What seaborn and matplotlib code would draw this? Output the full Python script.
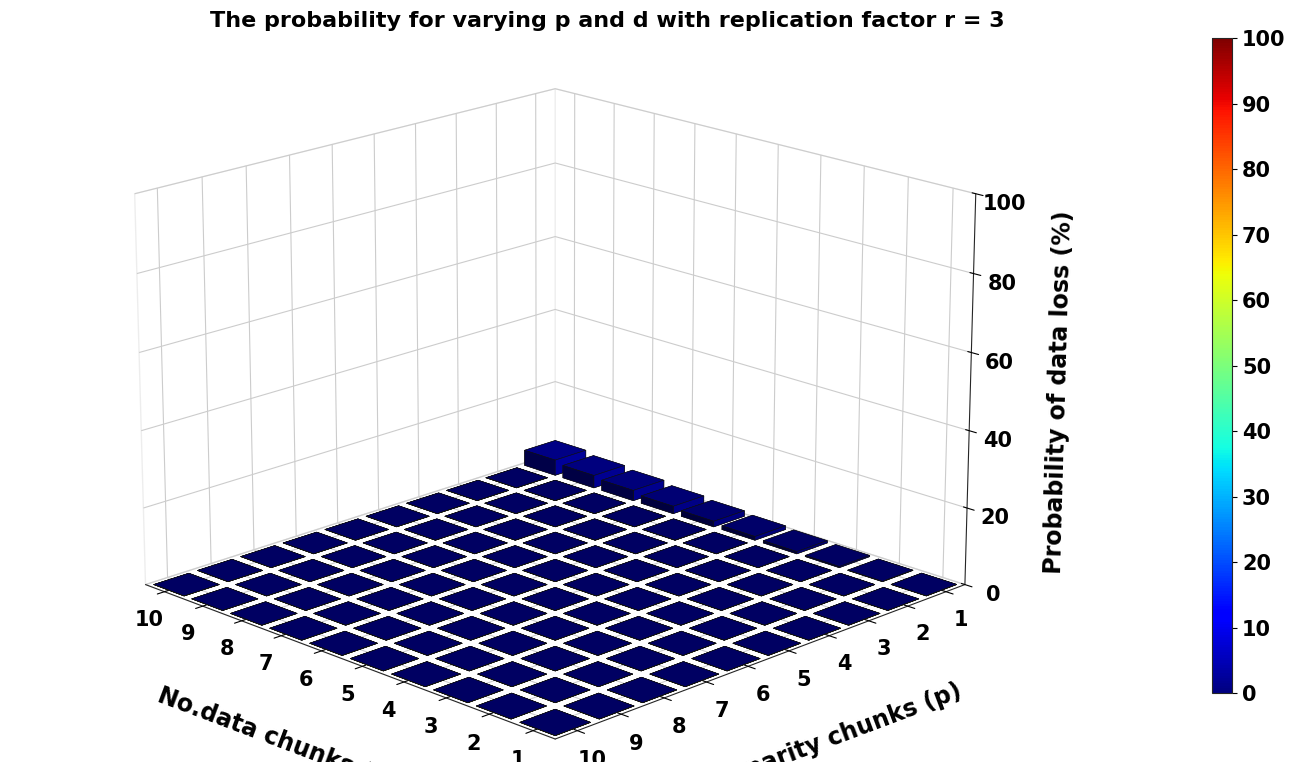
import numpy as np
import matplotlib
matplotlib.use('Agg')
import matplotlib.pyplot as plt
import seaborn as sns
from matplotlib import cm, colors

sns.set_style('white')
plt.rcParams['font.family'] = ['DejaVu Sans']
plt.rcParams['font.weight'] = 'bold'
plt.rcParams['text.color'] = 'black'
plt.rcParams['xtick.color'] = 'black'
plt.rcParams['ytick.color'] = 'black'
plt.rcParams['axes.labelcolor'] = 'black'

data_chunks = [1, 2, 3, 4, 5, 6, 7, 8, 9, 10]
parity_chunks = [1, 2, 3, 4, 5, 6, 7, 8, 9, 10]
# loss probability (%) for p = 1, indexed by d = 1..10; other p are ~0
loss_p1 = [0.05, 0.1, 0.3, 0.6, 1.0, 1.5, 2.0, 2.8, 3.4, 4.2]

loss = np.zeros((len(data_chunks), len(parity_chunks)))
loss[:, 0] = loss_p1

fig = plt.figure(figsize=(12.93, 7.62), dpi=100)
ax = fig.add_axes([-0.08, -0.12, 1.0, 1.18], projection='3d')
norm = colors.Normalize(0, 100)
cmap = cm.jet

w = 0.8
for i, d in enumerate(data_chunks):
    for j, p in enumerate(parity_chunks):
        h = loss[i, j]
        ax.bar3d(d - w / 2, p - w / 2, 0, w, w, max(h, 0.01),
                 color=cmap(norm(h)), edgecolor='#111111', linewidth=0.4, shade=True)

ax.set_xlim(0.5, 10.5)
ax.set_ylim(0.5, 10.5)
ax.set_zlim(0, 100)
ax.set_xticks(data_chunks)
ax.set_yticks(parity_chunks)
ax.set_zticks([0, 20, 40, 60, 80, 100])
ax.tick_params(labelsize=15)
ax.set_xlabel('No.data chunks (d)', fontsize=17, fontweight='bold', labelpad=28)
ax.set_ylabel('No.parity chunks (p)', fontsize=17, fontweight='bold', labelpad=28)
ax.set_zlabel('Probability of data loss (%)', fontsize=17, fontweight='bold', labelpad=15)
for pane in (ax.xaxis.pane, ax.yaxis.pane, ax.zaxis.pane):
    pane.set_facecolor('white')
    pane.set_edgecolor('#dddddd')
ax.view_init(elev=18, azim=135)
ax.set_box_aspect((1, 1, 0.7))

fig.text(0.47, 0.965, 'The probability for varying p and d with replication factor r = 3',
         fontsize=16, fontweight='bold', ha='center')

cax = fig.add_axes([0.937, 0.09, 0.016, 0.86])
cb = fig.colorbar(cm.ScalarMappable(norm=norm, cmap=cmap), cax=cax, ticks=range(0, 101, 10))
cb.ax.tick_params(labelsize=15)

fig.savefig('out.png', dpi=100)
